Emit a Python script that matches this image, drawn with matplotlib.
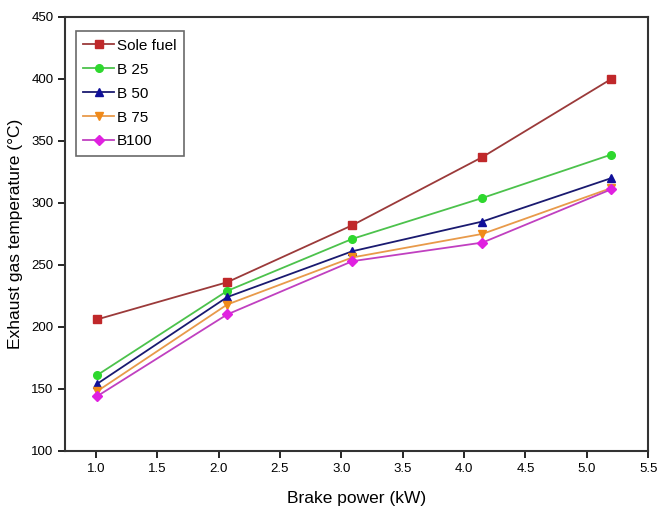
import matplotlib

matplotlib.use("Agg")
import matplotlib.pyplot as plt

plt.rcParams["font.family"] = ["Liberation Sans Narrow", "Liberation Sans", "DejaVu Sans"]

brake_power = [1.01, 2.07, 3.09, 4.15, 5.2]

sole_fuel = [206, 236, 282, 337, 400]
b25 = [161, 229, 271, 304, 339]
b50 = [154, 224, 261, 285, 320]
b75 = [148, 218, 256, 275, 312]
b100 = [144, 210, 253, 268, 311]

series = [
    ("Sole fuel", sole_fuel, "#c0282a", "#9b3a3a", "s"),
    ("B 25", b25, "#2ed82e", "#4cc24c", "o"),
    ("B 50", b50, "#10109a", "#1a1a70", "^"),
    ("B 75", b75, "#f08a1a", "#e89a4a", "v"),
    ("B100", b100, "#e020e0", "#c040c0", "D"),
]

fig = plt.figure(figsize=(6.58, 5.31), dpi=100)
ax = fig.add_axes([0.099, 0.151, 0.886, 0.817])

for name, vals, mcolor, lcolor, marker in series:
    ax.plot(brake_power, vals, color=lcolor, linewidth=1.3,
            marker=marker, markersize=5.5, markerfacecolor=mcolor,
            markeredgecolor=mcolor, label=name)

ax.set_xlim(0.75, 5.5)
ax.set_ylim(100, 450)
ax.set_xticks([1.0, 1.5, 2.0, 2.5, 3.0, 3.5, 4.0, 4.5, 5.0, 5.5])
ax.set_yticks(range(100, 451, 50))
ax.tick_params(direction="out", length=5, width=1.2, labelsize=9.5)
for s in ax.spines.values():
    s.set_linewidth(1.5)
    s.set_color("#333333")

ax.set_xlabel("Brake power (kW)", fontsize=12.5, labelpad=12)
ax.set_ylabel("Exhaust gas temperature (°C)", fontsize=12.5, labelpad=6)

leg = ax.legend(loc="upper left", bbox_to_anchor=(0.005, 0.985), fontsize=11,
                frameon=True, fancybox=False, handlelength=2.0,
                handletextpad=0.2, borderpad=0.5, labelspacing=0.65)
leg.get_frame().set_edgecolor("#444444")
leg.get_frame().set_linewidth(1.2)

fig.savefig("out.png", dpi=100)
plt.close(fig)
